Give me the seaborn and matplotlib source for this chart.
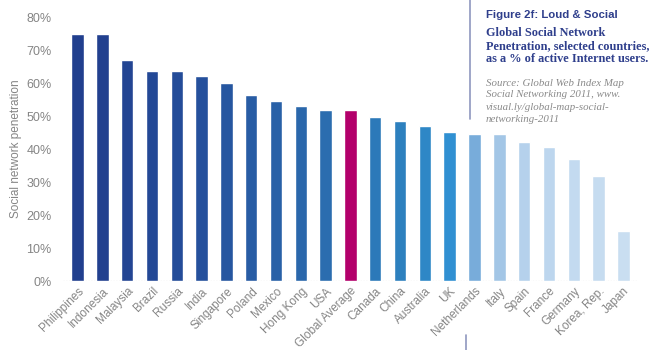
import matplotlib.pyplot as plt
import pandas as pd
import seaborn as sns
from matplotlib.ticker import PercentFormatter

# Social network penetration, % of active internet users
countries = [
    "Philippines", "Indonesia", "Malaysia", "Brazil", "Russia", "India",
    "Singapore", "Poland", "Mexico", "Hong Kong", "USA", "Global Average",
    "Canada", "China", "Australia", "UK", "Netherlands", "Italy", "Spain",
    "France", "Germany", "Korea, Rep.", "Japan",
]
penetration = [
    75.0, 75.0, 67.0, 63.6, 63.6, 62.3, 60.0, 56.5, 54.7, 53.0, 51.9, 51.9,
    49.6, 48.4, 47.0, 45.2, 44.6, 44.6, 42.2, 40.7, 37.0, 31.9, 15.2,
]
bar_colors = [
    "#213f8e", "#22408f", "#234593", "#234896", "#244c99", "#25509c",
    "#2656a0", "#285ca4", "#2961a7", "#2a67ab", "#2b6daf", "#b3006b",
    "#2c79b9", "#2d80be", "#2e87c6", "#3090d2", "#78acda", "#a3c6e6",
    "#b5d1ec", "#bdd6ee", "#c3daf0", "#c6dcf0", "#c9def1",
]

df = pd.DataFrame({"country": countries, "value": penetration})
palette = dict(zip(countries, bar_colors))

sns.set_style("white")
plt.rcParams["font.family"] = ["Liberation Sans", "DejaVu Sans"]

fig = plt.figure(figsize=(6.6, 3.5), dpi=100)
ax = fig.add_axes([0.095, 0.197, 0.872, 0.754])

sns.barplot(
    data=df, x="country", y="value", hue="country", palette=palette,
    order=countries, legend=False, width=0.5, saturation=1, ax=ax,
)

ax.set_ylim(0, 80)
ax.set_xlim(-0.6, len(countries) - 0.4)
ax.set_yticks(range(0, 81, 10))
ax.yaxis.set_major_formatter(PercentFormatter(decimals=0))
for s in ax.spines.values():
    s.set_visible(False)
ax.axhline(0, color="#999999", lw=0.8, ls=(0, (1, 1.5)), zorder=0)

grey = "#858585"
ax.tick_params(axis="both", length=0, colors=grey, labelsize=9)
ax.tick_params(axis="y", pad=8)
ax.tick_params(axis="x", labelsize=8.5, pad=3)
plt.setp(ax.get_xticklabels(), rotation=45, ha="right", rotation_mode="anchor")
ax.set_xlabel("")
ax.set_ylabel("Social network penetration", color=grey, fontsize=8.5, labelpad=3)

# Caption panel on the right
navy = "#2f3f8c"
rule = "#8f97bf"
fig.add_artist(plt.Line2D([470 / 660, 470 / 660], [1.0, 1 - 119 / 350],
                          color=rule, lw=1.2))
fig.add_artist(plt.Line2D([466 / 660, 466 / 660], [0.0, 15 / 350],
                          color=rule, lw=1.2))
x0 = 486 / 660
fig.text(x0, 1 - 15 / 350, "Figure 2f: Loud & Social", color=navy,
         fontsize=8.2, fontweight="bold", va="center")
title_lines = ["Global Social Network", "Penetration, selected countries,",
               "as a % of active Internet users."]
for i, line in enumerate(title_lines):
    fig.text(x0, 1 - (33 + 13 * i) / 350, line, color=navy, fontsize=8.8,
             fontweight="bold", va="center", family=["Liberation Serif"])
source_lines = ["Source: Global Web Index Map", "Social Networking 2011, www.",
                "visual.ly/global-map-social-", "networking-2011"]
for i, line in enumerate(source_lines):
    fig.text(x0, 1 - (83 + 12 * i) / 350, line, color="#8a8a8a", fontsize=7.8,
             style="italic", va="center", family=["Liberation Serif"])

fig.savefig("out.png", dpi=100)
